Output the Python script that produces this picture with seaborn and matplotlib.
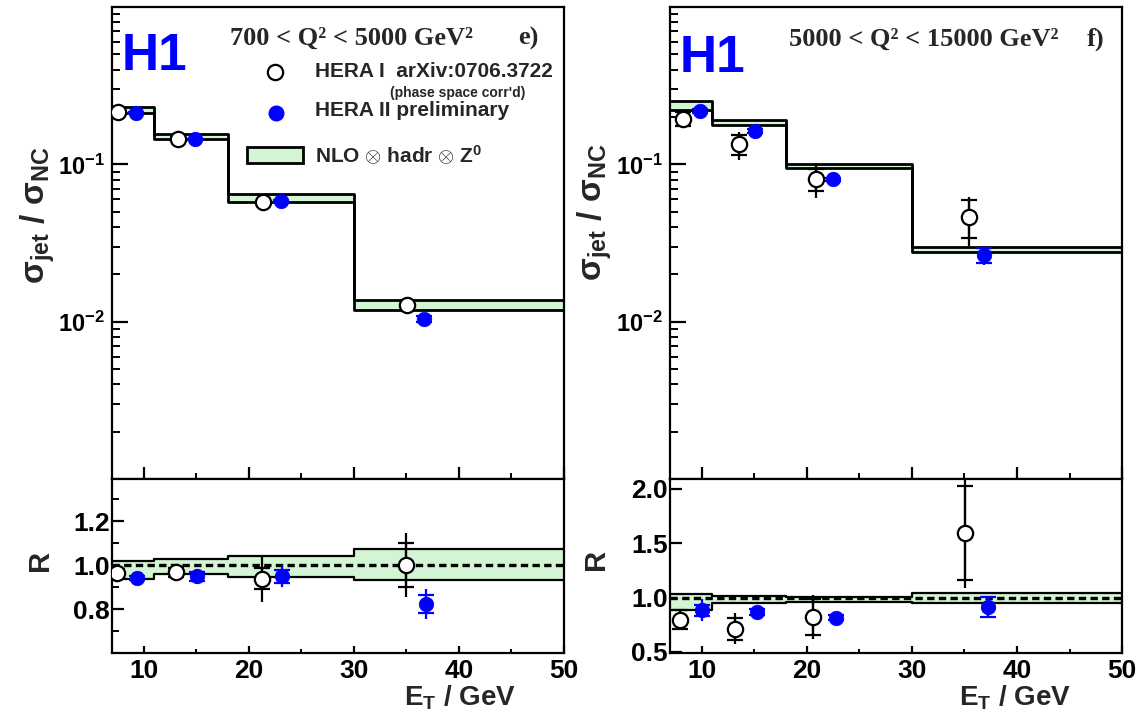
import numpy as np
import matplotlib
matplotlib.use("Agg")
import matplotlib.pyplot as plt
import seaborn as sns
from matplotlib.ticker import FixedLocator, FixedFormatter, NullFormatter
from matplotlib.patches import Rectangle
from matplotlib.lines import Line2D

# ---------------- data ----------------
bin_edges = [7, 11, 18, 30, 50]

# panel e) 700 < Q2 < 5000
e_nlo_lo = [0.211, 0.146, 0.0578, 0.01186]
e_nlo_hi = [0.230, 0.155, 0.0644, 0.0137]
e_h1_x = [7.6, 13.3, 21.4, 35.1]
e_h1_y = [0.216, 0.146, 0.0573, 0.01276]
e_h1_stat = [0.004, 0.003, 0.0015, 0.0008]
e_h1_tot = [0.008, 0.006, 0.0035, 0.0016]
e_h2_x = [9.3, 14.9, 23.1, 36.7]
e_h2_y = [0.213, 0.144, 0.0582, 0.01043]
e_h2_stat = [0.002, 0.002, 0.001, 0.0004]
e_h2_tot = [0.004, 0.003, 0.0015, 0.0006]

e_r_lo = [0.937, 0.960, 0.948, 0.933]
e_r_hi = [1.019, 1.027, 1.039, 1.072]
e_r1_x = [7.5, 13.05, 21.3, 35.0]
e_r1_y = [0.962, 0.967, 0.937, 1.000]
e_r1_stat = [0.02, 0.02, 0.048, 0.10]
e_r1_tot = [0.03, 0.035, 0.105, 0.146]
e_r2_x = [9.35, 15.05, 23.2, 36.85]
e_r2_y = [0.942, 0.949, 0.949, 0.822]
e_r2_stat = [0.01, 0.02, 0.03, 0.041]
e_r2_tot = [0.015, 0.034, 0.05, 0.067]

# panel f) 5000 < Q2 < 15000
f_nlo_lo = [0.221, 0.178, 0.0952, 0.0277]
f_nlo_hi = [0.252, 0.1905, 0.100, 0.0299]
f_h1_x = [8.2, 13.6, 20.86, 35.4]
f_h1_y = [0.195, 0.134, 0.081, 0.0465]
f_h1_stat = [0.02, 0.019, 0.013, 0.0125]
f_h1_tot = [0.025, 0.027, 0.020, 0.016]
f_h2_x = [9.85, 15.1, 22.5, 36.9]
f_h2_y = [0.218, 0.163, 0.0803, 0.0265]
f_h2_stat = [0.006, 0.004, 0.002, 0.0028]
f_h2_tot = [0.010, 0.006, 0.004, 0.0035]

f_r_lo = [0.889, 0.945, 0.957, 0.945]
f_r_hi = [1.031, 1.018, 1.006, 1.037]
f_r1_x = [7.96, 13.2, 20.6, 35.1]
f_r1_y = [0.797, 0.714, 0.821, 1.591]
f_r1_stat = [0.09, 0.10, 0.165, 0.43]
f_r1_tot = [0.10, 0.14, 0.20, 0.50]
f_r2_x = [10.08, 15.3, 22.8, 37.25]
f_r2_y = [0.883, 0.868, 0.815, 0.914]
f_r2_stat = [0.05, 0.03, 0.02, 0.095]
f_r2_tot = [0.10, 0.045, 0.03, 0.10]

titles = ["700 < Q\u00b2 < 5000 GeV\u00b2", "5000 < Q\u00b2 < 15000 GeV\u00b2"]
panel_tags = ["e)", "f)"]

# ---------------- style ----------------
sns.set_theme(style="ticks")
plt.rcParams.update({
    "font.family": ["Liberation Sans", "DejaVu Sans"],
    "font.weight": "bold",
    "mathtext.fontset": "custom",
    "mathtext.rm": "Liberation Sans:bold",
    "mathtext.bf": "Liberation Sans:bold",
    "mathtext.it": "Liberation Sans:bold",
    "mathtext.sf": "Liberation Sans:bold",
    "axes.linewidth": 1.6,
    "axes.edgecolor": "black",
    "xtick.direction": "in",
    "ytick.direction": "in",
    "xtick.color": "black",
    "ytick.color": "black",
})

W, H = 1145, 715
fig = plt.figure(figsize=(W / 100, H / 100), dpi=100)


def px(x, y):
    return x / W, 1 - y / H


GREEN = "#d3f5d3"
BLUE = "#0000ff"

top_rect = {0: [0.0978, 0.3297, 0.3948, 0.6606], 1: [0.5852, 0.3297, 0.3948, 0.6606]}
bot_rect = {0: [0.0978, 0.0867, 0.3948, 0.2429], 1: [0.5852, 0.0867, 0.3948, 0.2429]}


def steps(vals):
    return list(bin_edges), list(vals) + [vals[-1]]


def draw_band(ax, lo, hi, lw):
    xs, ylo = steps(lo)
    _, yhi = steps(hi)
    ax.fill_between(xs, ylo, yhi, step="post", color=GREEN, lw=0, zorder=1)
    sns.lineplot(x=xs, y=ylo, drawstyle="steps-post", color="black", lw=lw,
                 ax=ax, estimator=None, sort=False, zorder=2)
    sns.lineplot(x=xs, y=yhi, drawstyle="steps-post", color="black", lw=lw,
                 ax=ax, estimator=None, sort=False, zorder=2)


def draw_points(ax, x, y, stat, tot, color, open_marker, ms):
    ax.errorbar(x, y, yerr=tot, fmt="none", ecolor=color, elinewidth=1.6,
                capsize=0, zorder=4)
    ax.errorbar(x, y, yerr=stat, fmt="none", ecolor=color, elinewidth=1.6,
                capsize=6, capthick=1.6, zorder=4)
    if open_marker:
        ax.plot(x, y, "o", ms=ms, mfc="white", mec=color, mew=1.6, zorder=5, ls="none")
    else:
        ax.plot(x, y, "o", ms=ms, mfc=color, mec=color, mew=0.5, zorder=5, ls="none")


panels = [
    dict(lo=e_nlo_lo, hi=e_nlo_hi, h1=(e_h1_x, e_h1_y, e_h1_stat, e_h1_tot),
         h2=(e_h2_x, e_h2_y, e_h2_stat, e_h2_tot),
         rlo=e_r_lo, rhi=e_r_hi, r1=(e_r1_x, e_r1_y, e_r1_stat, e_r1_tot),
         r2=(e_r2_x, e_r2_y, e_r2_stat, e_r2_tot),
         rlim=(0.6, 1.39), rmaj=[0.8, 1.0, 1.2], rmin=[0.7, 0.9, 1.1, 1.3]),
    dict(lo=f_nlo_lo, hi=f_nlo_hi, h1=(f_h1_x, f_h1_y, f_h1_stat, f_h1_tot),
         h2=(f_h2_x, f_h2_y, f_h2_stat, f_h2_tot),
         rlo=f_r_lo, rhi=f_r_hi, r1=(f_r1_x, f_r1_y, f_r1_stat, f_r1_tot),
         r2=(f_r2_x, f_r2_y, f_r2_stat, f_r2_tot),
         rlim=(0.49, 2.086), rmaj=[0.5, 1.0, 1.5, 2.0], rmin=[]),
]

xmaj = [10, 20, 30, 40, 50]
xmin = [15, 25, 35, 45]

for i, p in enumerate(panels):
    ax = fig.add_axes(top_rect[i])
    draw_band(ax, p["lo"], p["hi"], 2.0)
    draw_points(ax, *p["h1"], color="black", open_marker=True, ms=11)
    draw_points(ax, *p["h2"], color=BLUE, open_marker=False, ms=10.5)
    ax.set_yscale("log")
    ax.set_xlim(7, 50)
    ax.set_ylim(1e-3, 1.0)
    ax.yaxis.set_major_locator(FixedLocator([1e-2, 1e-1]))
    ax.yaxis.set_major_formatter(FixedFormatter([r"$\mathbf{10^{-2}}$", r"$\mathbf{10^{-1}}$"]))
    minors = [m * 10.0 ** d for d in (-3, -2, -1) for m in range(2, 10)]
    ax.yaxis.set_minor_locator(FixedLocator(minors))
    ax.yaxis.set_minor_formatter(NullFormatter())
    ax.xaxis.set_major_locator(FixedLocator(xmaj))
    ax.xaxis.set_minor_locator(FixedLocator(xmin))
    ax.xaxis.set_major_formatter(NullFormatter())
    ax.tick_params(axis="y", which="major", length=11.5, width=1.6, labelsize=17, pad=5)
    ax.tick_params(axis="y", which="minor", length=6, width=1.4)
    ax.tick_params(axis="x", which="major", length=9, width=1.6)
    ax.tick_params(axis="x", which="minor", length=4.5, width=1.4)
    ax.tick_params(top=False, right=False, which="both")
    ax.set_xlabel("")
    ax.set_ylabel("")
    for lab in ax.get_yticklabels():
        lab.set_fontweight("bold")

    axr = fig.add_axes(bot_rect[i])
    draw_band(axr, p["rlo"], p["rhi"], 1.6)
    axr.axhline(1.0, color="black", lw=2.4, ls=(0, (2.2, 1.3)), zorder=3)
    draw_points(axr, *p["r1"], color="black", open_marker=True, ms=11)
    draw_points(axr, *p["r2"], color=BLUE, open_marker=False, ms=10.5)
    axr.set_xlim(7, 50)
    axr.set_ylim(*p["rlim"])
    axr.yaxis.set_major_locator(FixedLocator(p["rmaj"]))
    axr.yaxis.set_major_formatter(FixedFormatter([f"{v:.1f}" for v in p["rmaj"]]))
    axr.yaxis.set_minor_locator(FixedLocator(p["rmin"]))
    axr.xaxis.set_major_locator(FixedLocator(xmaj))
    axr.xaxis.set_major_formatter(FixedFormatter([str(v) for v in xmaj]))
    axr.xaxis.set_minor_locator(FixedLocator(xmin))
    axr.tick_params(axis="y", which="major", length=8.5, width=1.6, labelsize=19, pad=1.5)
    axr.tick_params(axis="y", which="minor", length=5, width=1.4)
    axr.tick_params(axis="x", which="major", length=5, width=1.6, labelsize=19, pad=4)
    axr.tick_params(axis="x", which="minor", length=3, width=1.4)
    axr.tick_params(top=False, right=False, which="both")
    axr.set_xlabel("")
    axr.set_ylabel("")
    for lab in axr.get_xticklabels() + axr.get_yticklabels():
        lab.set_fontweight("bold")

# ---------------- texts ----------------
for (hx, hy) in [(154, 56), (712, 59)]:
    fig.text(*px(hx, hy), "H1", color=BLUE, fontsize=37, fontweight="bold",
             ha="center", va="center")

for (tx, ty), t in zip([(230, 38), (789, 39)], titles):
    fig.text(*px(tx, ty), t, family="Liberation Serif", fontweight="bold",
             fontsize=19, ha="left", va="center")
for (tx, ty), t in zip([(518, 38), (1087, 39)], panel_tags):
    fig.text(*px(tx, ty), t, family="Liberation Serif", fontweight="bold",
             fontsize=19, ha="left", va="center")

ylab = r"$\mathbf{\sigma_{jet}}$ / $\mathbf{\sigma_{NC}}$"
for (lx, ly) in [(38, 215), (595, 212)]:
    fig.text(*px(lx, ly), ylab, rotation=90, fontsize=24, ha="center", va="center")
for (lx, ly) in [(40, 560), (596, 559)]:
    fig.text(*px(lx, ly), "R", rotation=90, fontsize=21, fontweight="bold",
             ha="center", va="center")
for (lx, ly) in [(460, 698), (1015, 698)]:
    fig.text(*px(lx, ly), r"E$_{\mathbf{T}}$ / GeV", fontsize=20, fontweight="bold",
             ha="center", va="center")

# ---------------- legend (left panel) ----------------
fig.add_artist(Line2D([px(275, 71.7)[0]], [px(275, 71.7)[1]], marker="o", ms=11,
                      mfc="white", mec="black", mew=1.6, ls="none",
                      transform=fig.transFigure))
fig.add_artist(Line2D([px(276, 113)[0]], [px(276, 113)[1]], marker="o", ms=10.5,
                      mfc=BLUE, mec=BLUE, ls="none", transform=fig.transFigure))
bx0, by0 = px(247, 162.7)
bx1, by1 = px(303.3, 146.7)
fig.add_artist(Rectangle((bx0, by0), bx1 - bx0, by1 - by0, facecolor=GREEN,
                         edgecolor="black", lw=2, transform=fig.transFigure))
fig.text(*px(315, 71.7), "HERA I  arXiv:0706.3722", fontsize=15, fontweight="bold",
         ha="left", va="center")
fig.text(*px(390, 93), "(phase space corr'd)", fontsize=10, fontweight="bold",
         ha="left", va="center")
fig.text(*px(315, 110), "HERA II preliminary", fontsize=15, fontweight="bold",
         ha="left", va="center")
fig.text(*px(315, 155), r"NLO $\otimes$ hadr $\otimes$ Z$^{\mathbf{0}}$", fontsize=15,
         fontweight="bold", ha="left", va="center")

fig.savefig("out.png", dpi=100)
